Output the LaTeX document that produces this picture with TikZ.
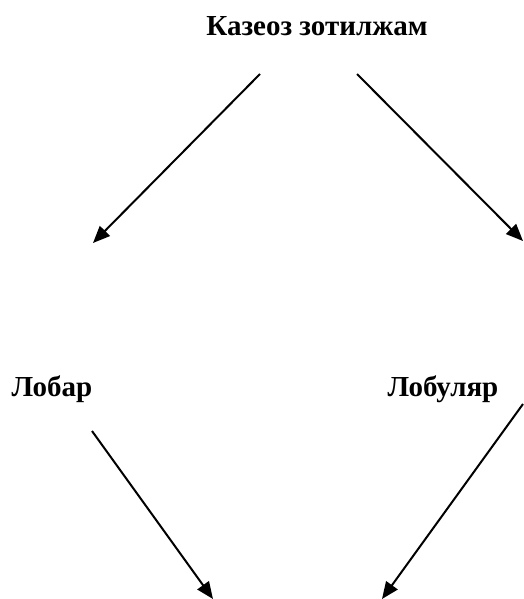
\documentclass[tikz,border=0pt]{standalone}
\usepackage{fontspec}
\setmainfont{Liberation Serif}
\usetikzlibrary{arrows.meta}
\begin{document}
\begin{tikzpicture}[x=1pt,y=-1pt,
  lbl/.style={font=\fontsize{29}{33}\selectfont\bfseries, inner sep=0pt, anchor=base},
  arr/.style={line width=2pt, -{Triangle[length=17pt,width=14pt]}}]
\useasboundingbox (0,0) rectangle (523,599);
\node[lbl] (k) at (317,36) {Казеоз зотилжам};
\node[lbl] (l) at (52,396) {Лобар};
\node[lbl] (b) at (443,396) {Лобуляр};
\coordinate (s1) at (260,74);
\coordinate (e1) at (93,243);
\coordinate (s2) at (357,74);
\coordinate (e2) at (523,241);
\coordinate (s3) at (92,431);
\coordinate (e3) at (213,599);
\coordinate (s4) at (523,404);
\coordinate (e4) at (382,599);
\draw[arr] (s1) -- (e1);
\draw[arr] (s2) -- (e2);
\draw[arr] (s3) -- (e3);
\draw[arr] (s4) -- (e4);
\end{tikzpicture}
\end{document}
